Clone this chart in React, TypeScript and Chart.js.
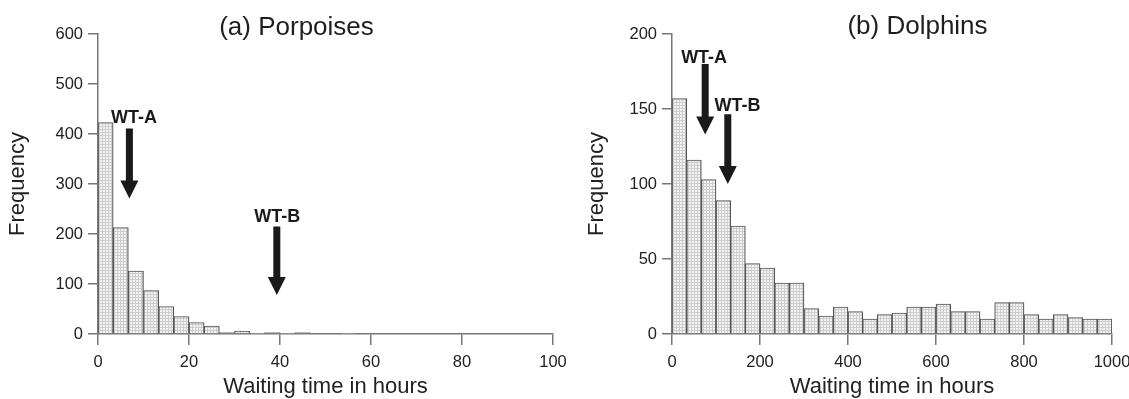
import React, { useEffect, useRef } from 'react';
import { Chart, registerables } from 'chart.js';

Chart.register(...registerables);

const FONT = '"Liberation Sans", Arial, Helvetica, sans-serif';

// ---------- (a) Porpoises ----------
const porpoiseTitle = '(a) Porpoises';
const porpoiseBinWidth = 10 / 3;
const porpoiseCounts = [423, 213, 126, 87, 55, 35, 23, 16, 3, 6, 1, 3, 1, 3, 0, 0, 1, 0, 0, 0, 0, 0, 0, 0, 0, 0, 0, 0, 0, 0];
const porpoiseXTicks = [0, 20, 40, 60, 80, 100];
const porpoiseYTicks = [0, 100, 200, 300, 400, 500, 600];
const porpoiseArrowLabels = ['WT-A', 'WT-B'];
const porpoiseArrowX = [6.9, 39.3];
const porpoiseArrowTop = [411, 215];
const porpoiseArrowTip = [271, 78];
const porpoiseLabelX = [7.9, 39.4];
const porpoiseLabelY = [423, 225];

// ---------- (b) Dolphins ----------
const dolphinTitle = '(b) Dolphins';
const dolphinBinWidth = 1000 / 30;
const dolphinCounts = [157, 116, 103, 89, 72, 47, 44, 34, 34, 17, 12, 18, 15, 10, 13, 14, 18, 18, 20, 15, 15, 10, 21, 21, 13, 10, 13, 11, 10, 10];
const dolphinXTicks = [0, 200, 400, 600, 800, 1000];
const dolphinYTicks = [0, 50, 100, 150, 200];
const dolphinArrowLabels = ['WT-A', 'WT-B'];
const dolphinArrowX = [75.4, 126.8];
const dolphinArrowTop = [180, 146.5];
const dolphinArrowTip = [133, 100];
const dolphinLabelX = [73, 149];
const dolphinLabelY = [181, 149];

const xTitle = 'Waiting time in hours';
const yTitle = 'Frequency';

type ArrowSpec = { label: string; x: number; top: number; tip: number; lx: number; ly: number };

const overlayPlugin = {
  id: 'overlay',
  afterDatasetsDraw(chart: any, _args: any, opts: any) {
    const { ctx } = chart;
    const xs = chart.scales.x;
    const ys = chart.scales.y;
    ctx.save();
    ctx.fillStyle = '#1e1e1e';
    ctx.textAlign = 'center';
    ctx.textBaseline = 'alphabetic';
    ctx.font = `26px ${FONT}`;
    ctx.fillText(opts.title, opts.titleX, opts.titleBaseline);
    (opts.arrows as ArrowSpec[]).forEach((a) => {
      const px = xs.getPixelForValue(a.x);
      const top = ys.getPixelForValue(a.top);
      const tip = ys.getPixelForValue(a.tip);
      const headH = 18;
      const headW = 18;
      const shaftW = 7;
      ctx.fillStyle = '#1a1a1a';
      ctx.fillRect(px - shaftW / 2, top, shaftW, tip - headH - top + 1);
      ctx.beginPath();
      ctx.moveTo(px - headW / 2, tip - headH);
      ctx.lineTo(px + headW / 2, tip - headH);
      ctx.lineTo(px, tip);
      ctx.closePath();
      ctx.fill();
      ctx.font = `bold 18px ${FONT}`;
      ctx.fillText(a.label, xs.getPixelForValue(a.lx), ys.getPixelForValue(a.ly));
    });
    ctx.restore();
  },
};

function makePattern(): CanvasPattern | string {
  const c = document.createElement('canvas');
  c.width = 3;
  c.height = 3;
  const g = c.getContext('2d');
  if (!g) return '#e4e4e4';
  g.fillStyle = '#f3f3f3';
  g.fillRect(0, 0, 3, 3);
  g.fillStyle = '#cdcdcd';
  g.fillRect(0, 0, 3, 1);
  g.fillRect(0, 0, 1, 3);
  const p = g.createPattern(c, 'repeat');
  return p || '#e4e4e4';
}

type PanelProps = {
  left: number;
  width: number;
  counts: number[];
  binWidth: number;
  xTicks: number[];
  yTicks: number[];
  yAxisWidth: number;
  padRight: number;
  yTitlePad: number;
  title: string;
  titleX: number;
  titleBaseline: number;
  arrows: ArrowSpec[];
};

function Panel(p: PanelProps) {
  const ref = useRef<HTMLCanvasElement | null>(null);
  useEffect(() => {
    if (!ref.current) return;
    const pattern = makePattern();
    const data = p.counts.map((v, i) => ({ x: (i + 0.5) * p.binWidth, y: v }));
    const xMax = p.xTicks[p.xTicks.length - 1];
    const yMax = p.yTicks[p.yTicks.length - 1];
    const chart = new Chart(ref.current, {
      type: 'bar',
      data: {
        datasets: [
          {
            data: data as any,
            backgroundColor: pattern as any,
            borderColor: '#555555',
            borderWidth: 1.2,
            barPercentage: 1,
            categoryPercentage: 1,
          },
        ],
      },
      plugins: [overlayPlugin as any],
      options: {
        responsive: false,
        animation: false,
        devicePixelRatio: 1,
        layout: { padding: { left: 0, right: p.padRight, top: 34, bottom: 0 } },
        plugins: {
          legend: { display: false },
          tooltip: { enabled: false },
          overlay: {
            title: p.title,
            titleX: p.titleX,
            titleBaseline: p.titleBaseline,
            arrows: p.arrows,
          },
        } as any,
        scales: {
          x: {
            type: 'linear',
            min: 0,
            max: xMax,
            offset: false,
            afterFit: (s: any) => {
              s.height = 65;
              s.paddingLeft = 0;
              s.paddingRight = 0;
            },
            afterBuildTicks: (s: any) => {
              s.ticks = p.xTicks.map((v) => ({ value: v }));
            },
            grid: {
              offset: false,
              drawOnChartArea: false,
              drawTicks: true,
              tickLength: 11,
              color: '#777777',
              lineWidth: 1.5,
            },
            border: { display: true, color: '#777777', width: 1.5 },
            ticks: {
              padding: 8,
              color: '#222222',
              font: { family: FONT, size: 16.5 },
              maxRotation: 0,
              callback: (v: any) => String(v),
            },
            title: {
              display: true,
              text: xTitle,
              color: '#222222',
              font: { family: FONT, size: 22, lineHeight: 1 },
              padding: { top: 0, bottom: 1 },
            },
          },
          y: {
            type: 'linear',
            min: 0,
            max: yMax,
            afterFit: (s: any) => {
              s.width = p.yAxisWidth;
            },
            afterBuildTicks: (s: any) => {
              s.ticks = p.yTicks.map((v) => ({ value: v }));
            },
            grid: {
              drawOnChartArea: false,
              drawTicks: true,
              tickLength: 10,
              color: '#777777',
              lineWidth: 1.5,
            },
            border: { display: true, color: '#777777', width: 1.5 },
            ticks: {
              padding: 5,
              color: '#222222',
              font: { family: FONT, size: 16.5 },
              callback: (v: any) => String(v),
            },
            title: {
              display: true,
              text: yTitle,
              color: '#222222',
              font: { family: FONT, size: 22, lineHeight: 1 },
              padding: { top: p.yTitlePad, bottom: 0 },
            },
          },
        },
      },
    });
    return () => chart.destroy();
  }, []);
  return (
    <canvas
      ref={ref}
      width={p.width}
      height={399}
      style={{ position: 'absolute', left: p.left, top: 0, width: p.width, height: 399 }}
    />
  );
}

function toArrows(labels: string[], xs: number[], tops: number[], tips: number[], lxs: number[], lys: number[]): ArrowSpec[] {
  return labels.map((label, i) => ({ label, x: xs[i], top: tops[i], tip: tips[i], lx: lxs[i], ly: lys[i] }));
}

export default function App() {
  return (
    <div style={{ position: 'fixed', left: 0, top: 0, width: 1129, height: 399, background: '#ffffff' }}>
      <Panel
        left={0}
        width={570}
        counts={porpoiseCounts}
        binWidth={porpoiseBinWidth}
        xTicks={porpoiseXTicks}
        yTicks={porpoiseYTicks}
        yAxisWidth={98}
        padRight={17}
        yTitlePad={7}
        title={porpoiseTitle}
        titleX={296.5}
        titleBaseline={35}
        arrows={toArrows(porpoiseArrowLabels, porpoiseArrowX, porpoiseArrowTop, porpoiseArrowTip, porpoiseLabelX, porpoiseLabelY)}
      />
      <Panel
        left={565}
        width={564}
        counts={dolphinCounts}
        binWidth={dolphinBinWidth}
        xTicks={dolphinXTicks}
        yTicks={dolphinYTicks}
        yAxisWidth={107}
        padRight={17}
        yTitlePad={21}
        title={dolphinTitle}
        titleX={352.5}
        titleBaseline={34}
        arrows={toArrows(dolphinArrowLabels, dolphinArrowX, dolphinArrowTop, dolphinArrowTip, dolphinLabelX, dolphinLabelY)}
      />
    </div>
  );
}
